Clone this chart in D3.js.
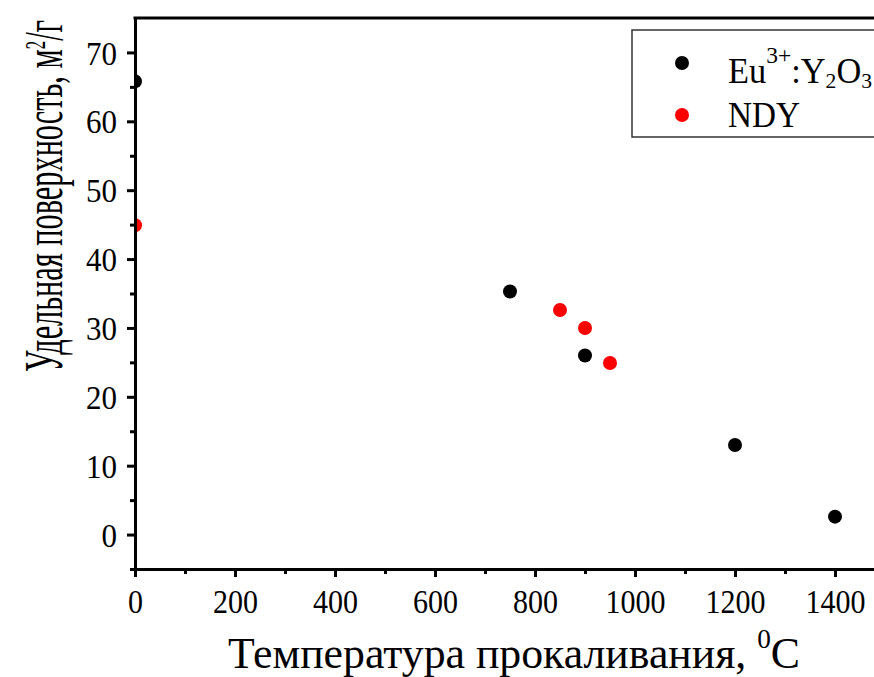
<!doctype html>
<html lang="ru">
<head>
  <meta charset="utf-8">
  <title>Удельная поверхность</title>
  <style>
    body { margin: 0; background: #fff; }
    svg { display: block; font-family: "Liberation Serif", "DejaVu Serif", serif; }
    .axis path, .axis line { stroke: #000; }
    .axis path { stroke-width: 3; }
    .axis line { stroke-width: 3; }
    .axis text { font-family: "Liberation Serif", serif; font-size: 34px; fill: #000; }
  </style>
</head>
<body>
  <div id="chart"></div>
  <script src="https://cdn.jsdelivr.net/npm/d3@7/dist/d3.min.js"></script>
  <script>
// data
var euTemp = [0, 750, 900, 1200, 1400];
var euArea = [65.8, 35.3, 26.0, 13.0, 2.6];
var ndyTemp = [0, 850, 900, 950];
var ndyArea = [44.9, 32.6, 30.0, 24.9];

var xTicks = [0, 200, 400, 600, 800, 1000, 1200, 1400];
var xMinor = [100, 300, 500, 700, 900, 1100, 1300];
var yTicks = [0, 10, 20, 30, 40, 50, 60, 70];
var yMinor = [-5, 5, 15, 25, 35, 45, 55, 65];

(function() {
  var width = 874;
  var height = 677;

  var svg = d3.select("#chart")
      .append("svg")
      .attr("width", width)
      .attr("height", height);

  var x = d3.scaleLinear().domain([0, 1500]).range([135, 885]);
  var y = d3.scaleLinear().domain([-5, 75]).range([569, 18]);

  svg.append("clipPath").attr("id", "plot")
    .append("rect")
      .attr("x", x(0)).attr("y", y(75))
      .attr("width", x(1500) - x(0)).attr("height", y(-5) - y(75));

  // points
  var dots = svg.append("g").attr("clip-path", "url(#plot)");
  dots.selectAll("circle.eu").data(euTemp)
    .enter().append("circle")
      .attr("class", "eu")
      .attr("cx", function(d) { return x(d); })
      .attr("cy", function(d, i) { return y(euArea[i]); })
      .attr("r", 7)
      .attr("fill", "#000");
  dots.selectAll("circle.ndy").data(ndyTemp)
    .enter().append("circle")
      .attr("class", "ndy")
      .attr("cx", function(d) { return x(d); })
      .attr("cy", function(d, i) { return y(ndyArea[i]); })
      .attr("r", 7)
      .attr("fill", "#ff0000");

  // top border
  svg.append("line")
    .attr("x1", x(0) - 1.5).attr("x2", x(1500))
    .attr("y1", y(75)).attr("y2", y(75))
    .attr("stroke", "#000").attr("stroke-width", 3);

  // bottom axis
  svg.append("g").attr("class", "axis")
    .attr("transform", "translate(0," + y(-5) + ")")
    .call(d3.axisBottom(x).tickValues(xMinor).tickSize(5).tickSizeOuter(0).tickFormat(""));
  var gx = svg.append("g").attr("class", "axis")
    .attr("transform", "translate(0," + y(-5) + ")")
    .call(d3.axisBottom(x).tickValues(xTicks).tickSize(8).tickSizeOuter(0).tickFormat(d3.format("d")));
  gx.selectAll("text")
    .attr("y", 44).attr("dy", 0)
    .attr("textLength", function(d) { return String(d).length * 15; })
    .attr("lengthAdjust", "spacingAndGlyphs");

  // left axis
  svg.append("g").attr("class", "axis")
    .attr("transform", "translate(" + x(0) + ",0)")
    .call(d3.axisLeft(y).tickValues(yMinor).tickSize(5).tickSizeOuter(0).tickFormat(""));
  var gy = svg.append("g").attr("class", "axis")
    .attr("transform", "translate(" + x(0) + ",0)")
    .call(d3.axisLeft(y).tickValues(yTicks).tickSize(8).tickSizeOuter(0).tickFormat(d3.format("d")));
  gy.selectAll("text")
    .attr("x", -18).attr("dy", "0.34em")
    .attr("textLength", function(d) { return String(d).length * 15.5; })
    .attr("lengthAdjust", "spacingAndGlyphs");

  // axis titles
  var xt = svg.append("text")
    .attr("x", 228).attr("y", 668)
    .attr("font-size", 45)
    .attr("textLength", 572)
    .attr("lengthAdjust", "spacingAndGlyphs");
  xt.append("tspan").text("Температура прокаливания, ");
  xt.append("tspan").attr("font-size", 28).attr("dy", -20).text("0");
  xt.append("tspan").attr("dy", 20).text("C");

  var yt = svg.append("text")
    .attr("transform", "translate(62,372) rotate(-90)")
    .attr("font-size", 54)
    .attr("textLength", 352)
    .attr("lengthAdjust", "spacingAndGlyphs");
  yt.append("tspan").text("Удельная поверхность, м");
  yt.append("tspan").attr("font-size", 30).attr("dy", -17).text("2");
  yt.append("tspan").attr("dy", 17).text("/г");

  // legend
  var lg = svg.append("g");
  lg.append("rect")
    .attr("x", 632).attr("y", 30)
    .attr("width", 300).attr("height", 107)
    .attr("fill", "#fff").attr("stroke", "#333").attr("stroke-width", 1.5);
  lg.append("circle").attr("cx", 682).attr("cy", 63).attr("r", 7).attr("fill", "#000");
  lg.append("circle").attr("cx", 682).attr("cy", 115).attr("r", 7).attr("fill", "#ff0000");

  var l1 = lg.append("text")
    .attr("x", 728).attr("y", 83)
    .attr("font-size", 35)
    .attr("textLength", 144)
    .attr("lengthAdjust", "spacingAndGlyphs");
  l1.append("tspan").text("Eu");
  l1.append("tspan").attr("font-size", 24).attr("dy", -20).text("3+");
  l1.append("tspan").attr("dy", 20).text(":Y");
  l1.append("tspan").attr("font-size", 22).attr("dy", 5).text("2");
  l1.append("tspan").attr("dy", -5).text("O");
  l1.append("tspan").attr("font-size", 22).attr("dy", 5).text("3");

  lg.append("text")
    .attr("x", 728).attr("y", 127)
    .attr("font-size", 35)
    .attr("textLength", 72)
    .attr("lengthAdjust", "spacingAndGlyphs")
    .text("NDY");
})();
  </script>
</body>
</html>
